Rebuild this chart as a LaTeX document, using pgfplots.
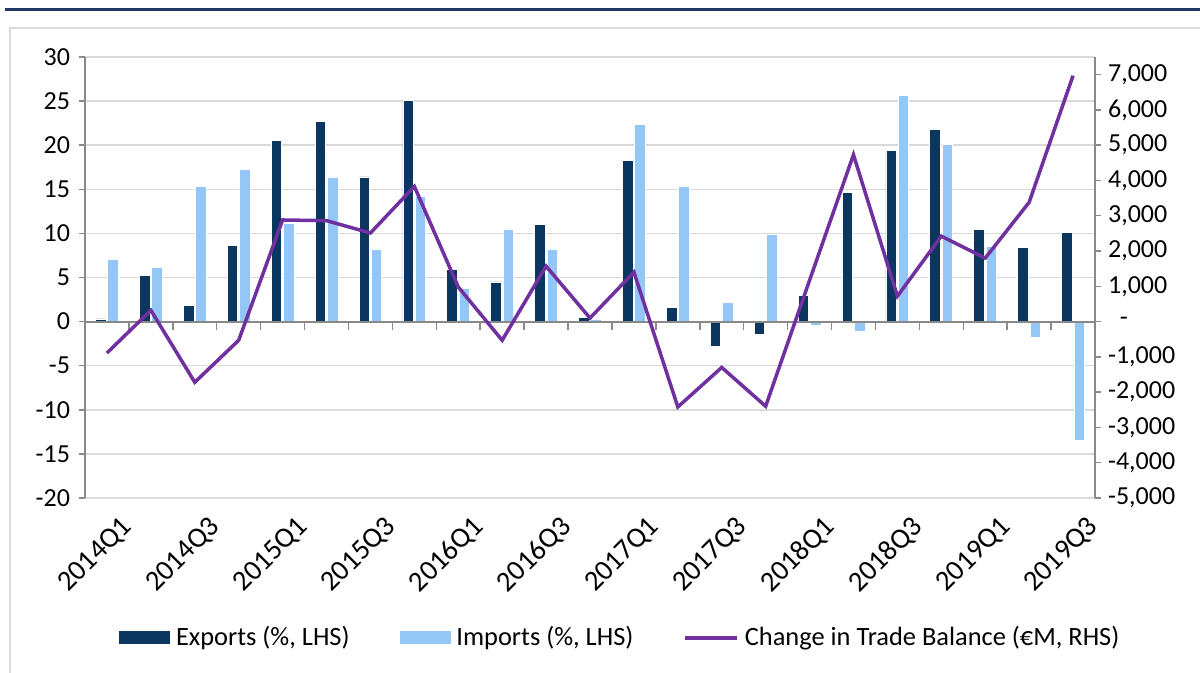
\documentclass[border=0pt]{standalone}
\usepackage{pgfplots}
\pgfplotsset{compat=1.18}
\usepackage{pgfplotstable}
\usepackage{fontspec}
\setmainfont{Carlito}
\definecolor{expc}{RGB}{10,54,96}
\definecolor{impc}{RGB}{148,199,245}
\definecolor{linec}{RGB}{112,48,160}
\definecolor{axgray}{RGB}{137,137,137}
\definecolor{gridgray}{RGB}{217,217,217}
\definecolor{navyrule}{RGB}{31,56,100}

\pgfplotstableread{
x exp imp bal
0 0.3 7.1 -890
1 5.2 6.1 320
2 1.8 15.3 -1720
3 8.6 17.3 -530
4 20.5 11.1 2880
5 22.7 16.4 2860
6 16.4 8.2 2510
7 25.1 14.25 3830
8 5.9 3.8 980
9 4.5 10.5 -530
10 11.0 8.2 1570
11 0.5 0.3 100
12 18.3 22.4 1400
13 1.6 15.3 -2420
14 -2.8 2.15 -1300
15 -1.4 9.9 -2400
16 2.95 -0.4 1170
17 14.6 -1.1 4730
18 19.4 25.6 720
19 21.8 20.1 2420
20 10.4 8.5 1800
21 8.4 -1.8 3380
22 10.1 -13.5 6970
}\data

\pgfplotsset{
  every tick label/.append style={font=\fontsize{13}{15}\selectfont, text=black},
  myaxis/.style={
    at={(42.5pt,87.5pt)}, anchor=south west,
    scale only axis, width=505pt, height=220.5pt,
    xmin=-0.5, xmax=22.5,
  }
}

\begin{document}
\begin{tikzpicture}
\path[use as bounding box] (0,0) rectangle (600pt,336.5pt);
\draw[navyrule, line width=1.5pt] (2.5pt,331.5pt) -- (600pt,331.5pt);
\draw[gridgray, line width=0.75pt] (5pt,-1pt) -- (5pt,322.5pt) -- (601pt,322.5pt);

\begin{axis}[myaxis,
  ymin=-20, ymax=30,
  ytick={-20,-15,...,30},
  yticklabels={-20,-15,-10,-5,0,5,10,15,20,25,30},
  axis x line*=bottom, axis y line*=left,
  x axis line style={draw=none},
  y axis line style={draw=axgray, line width=0.75pt, -},
  ytick style={draw=axgray, line width=0.75pt},
  tick align=outside, major tick length=3pt,
  ymajorgrids, grid style={gridgray, line width=0.75pt},
  xtick={0,2,...,22},
  xticklabels={2014Q1,2014Q3,2015Q1,2015Q3,2016Q1,2016Q3,2017Q1,2017Q3,2018Q1,2018Q3,2019Q1,2019Q3},
  xtick style={draw=none},
  xticklabel style={rotate=45, anchor=east, inner sep=1pt, yshift=-14pt, xshift=2pt,
    font=\fontsize{14.3}{16}\selectfont},
  yticklabel style={xshift=-1pt},
  legend style={draw=none, fill=none, legend columns=3,
    at={(0.532,-0.317)}, anchor=center,
    font=\fontsize{13.2}{15}\selectfont,
    nodes={inner xsep=3pt},
    /tikz/every even column/.append style={column sep=22pt}},
]
\addplot[ybar, bar width=0.24, bar shift=-0.14, fill=expc, draw=white, line width=0.4pt,
  legend image code/.code={\fill[expc] (0pt,-3pt) rectangle (25pt,3pt);}]
  table[x=x,y=exp]{\data};
\addlegendentry{Exports (\%, LHS)}
\addplot[ybar, bar width=0.24, bar shift=0.14, fill=impc, draw=white, line width=0.4pt,
  legend image code/.code={\fill[impc] (0pt,-3pt) rectangle (25pt,3pt);}]
  table[x=x,y=imp]{\data};
\addlegendentry{Imports (\%, LHS)}
\addlegendimage{legend image code/.code={\draw[linec, line width=1.75pt] (0pt,0pt) -- (26pt,0pt);}}
\addlegendentry{Change in Trade Balance (€M, RHS)}
\draw[axgray, line width=1pt] (axis cs:-0.5,0) -- (axis cs:22.5,0);
\draw[axgray, line width=0.75pt]
  (axis cs:0.5,0) -- ++(0pt,-4pt) (axis cs:1.5,0) -- ++(0pt,-4pt)
  (axis cs:2.5,0) -- ++(0pt,-4pt) (axis cs:3.5,0) -- ++(0pt,-4pt)
  (axis cs:4.5,0) -- ++(0pt,-4pt) (axis cs:5.5,0) -- ++(0pt,-4pt)
  (axis cs:6.5,0) -- ++(0pt,-4pt) (axis cs:7.5,0) -- ++(0pt,-4pt)
  (axis cs:8.5,0) -- ++(0pt,-4pt) (axis cs:9.5,0) -- ++(0pt,-4pt)
  (axis cs:10.5,0) -- ++(0pt,-4pt) (axis cs:11.5,0) -- ++(0pt,-4pt)
  (axis cs:12.5,0) -- ++(0pt,-4pt) (axis cs:13.5,0) -- ++(0pt,-4pt)
  (axis cs:14.5,0) -- ++(0pt,-4pt) (axis cs:15.5,0) -- ++(0pt,-4pt)
  (axis cs:16.5,0) -- ++(0pt,-4pt) (axis cs:17.5,0) -- ++(0pt,-4pt)
  (axis cs:18.5,0) -- ++(0pt,-4pt) (axis cs:19.5,0) -- ++(0pt,-4pt)
  (axis cs:20.5,0) -- ++(0pt,-4pt) (axis cs:21.5,0) -- ++(0pt,-4pt);
\end{axis}

\begin{axis}[myaxis,
  ymin=-5000, ymax=7500,
  ytick={-5000,-4000,...,7000},
  yticklabels={{-5,000},{-4,000},{-3,000},{-2,000},{-1,000},{\ \ -},{1,000},{2,000},{3,000},{4,000},{5,000},{6,000},{7,000}},
  axis x line=none, axis y line*=right,
  y axis line style={draw=axgray, line width=0.75pt, -},
  ytick style={draw=axgray, line width=0.75pt},
  tick align=outside, major tick length=3pt,
  yticklabel style={anchor=west, xshift=0pt},
]
\addplot[linec, line width=1.75pt, mark=none] table[x=x,y=bal]{\data};
\end{axis}
\end{tikzpicture}
\end{document}
